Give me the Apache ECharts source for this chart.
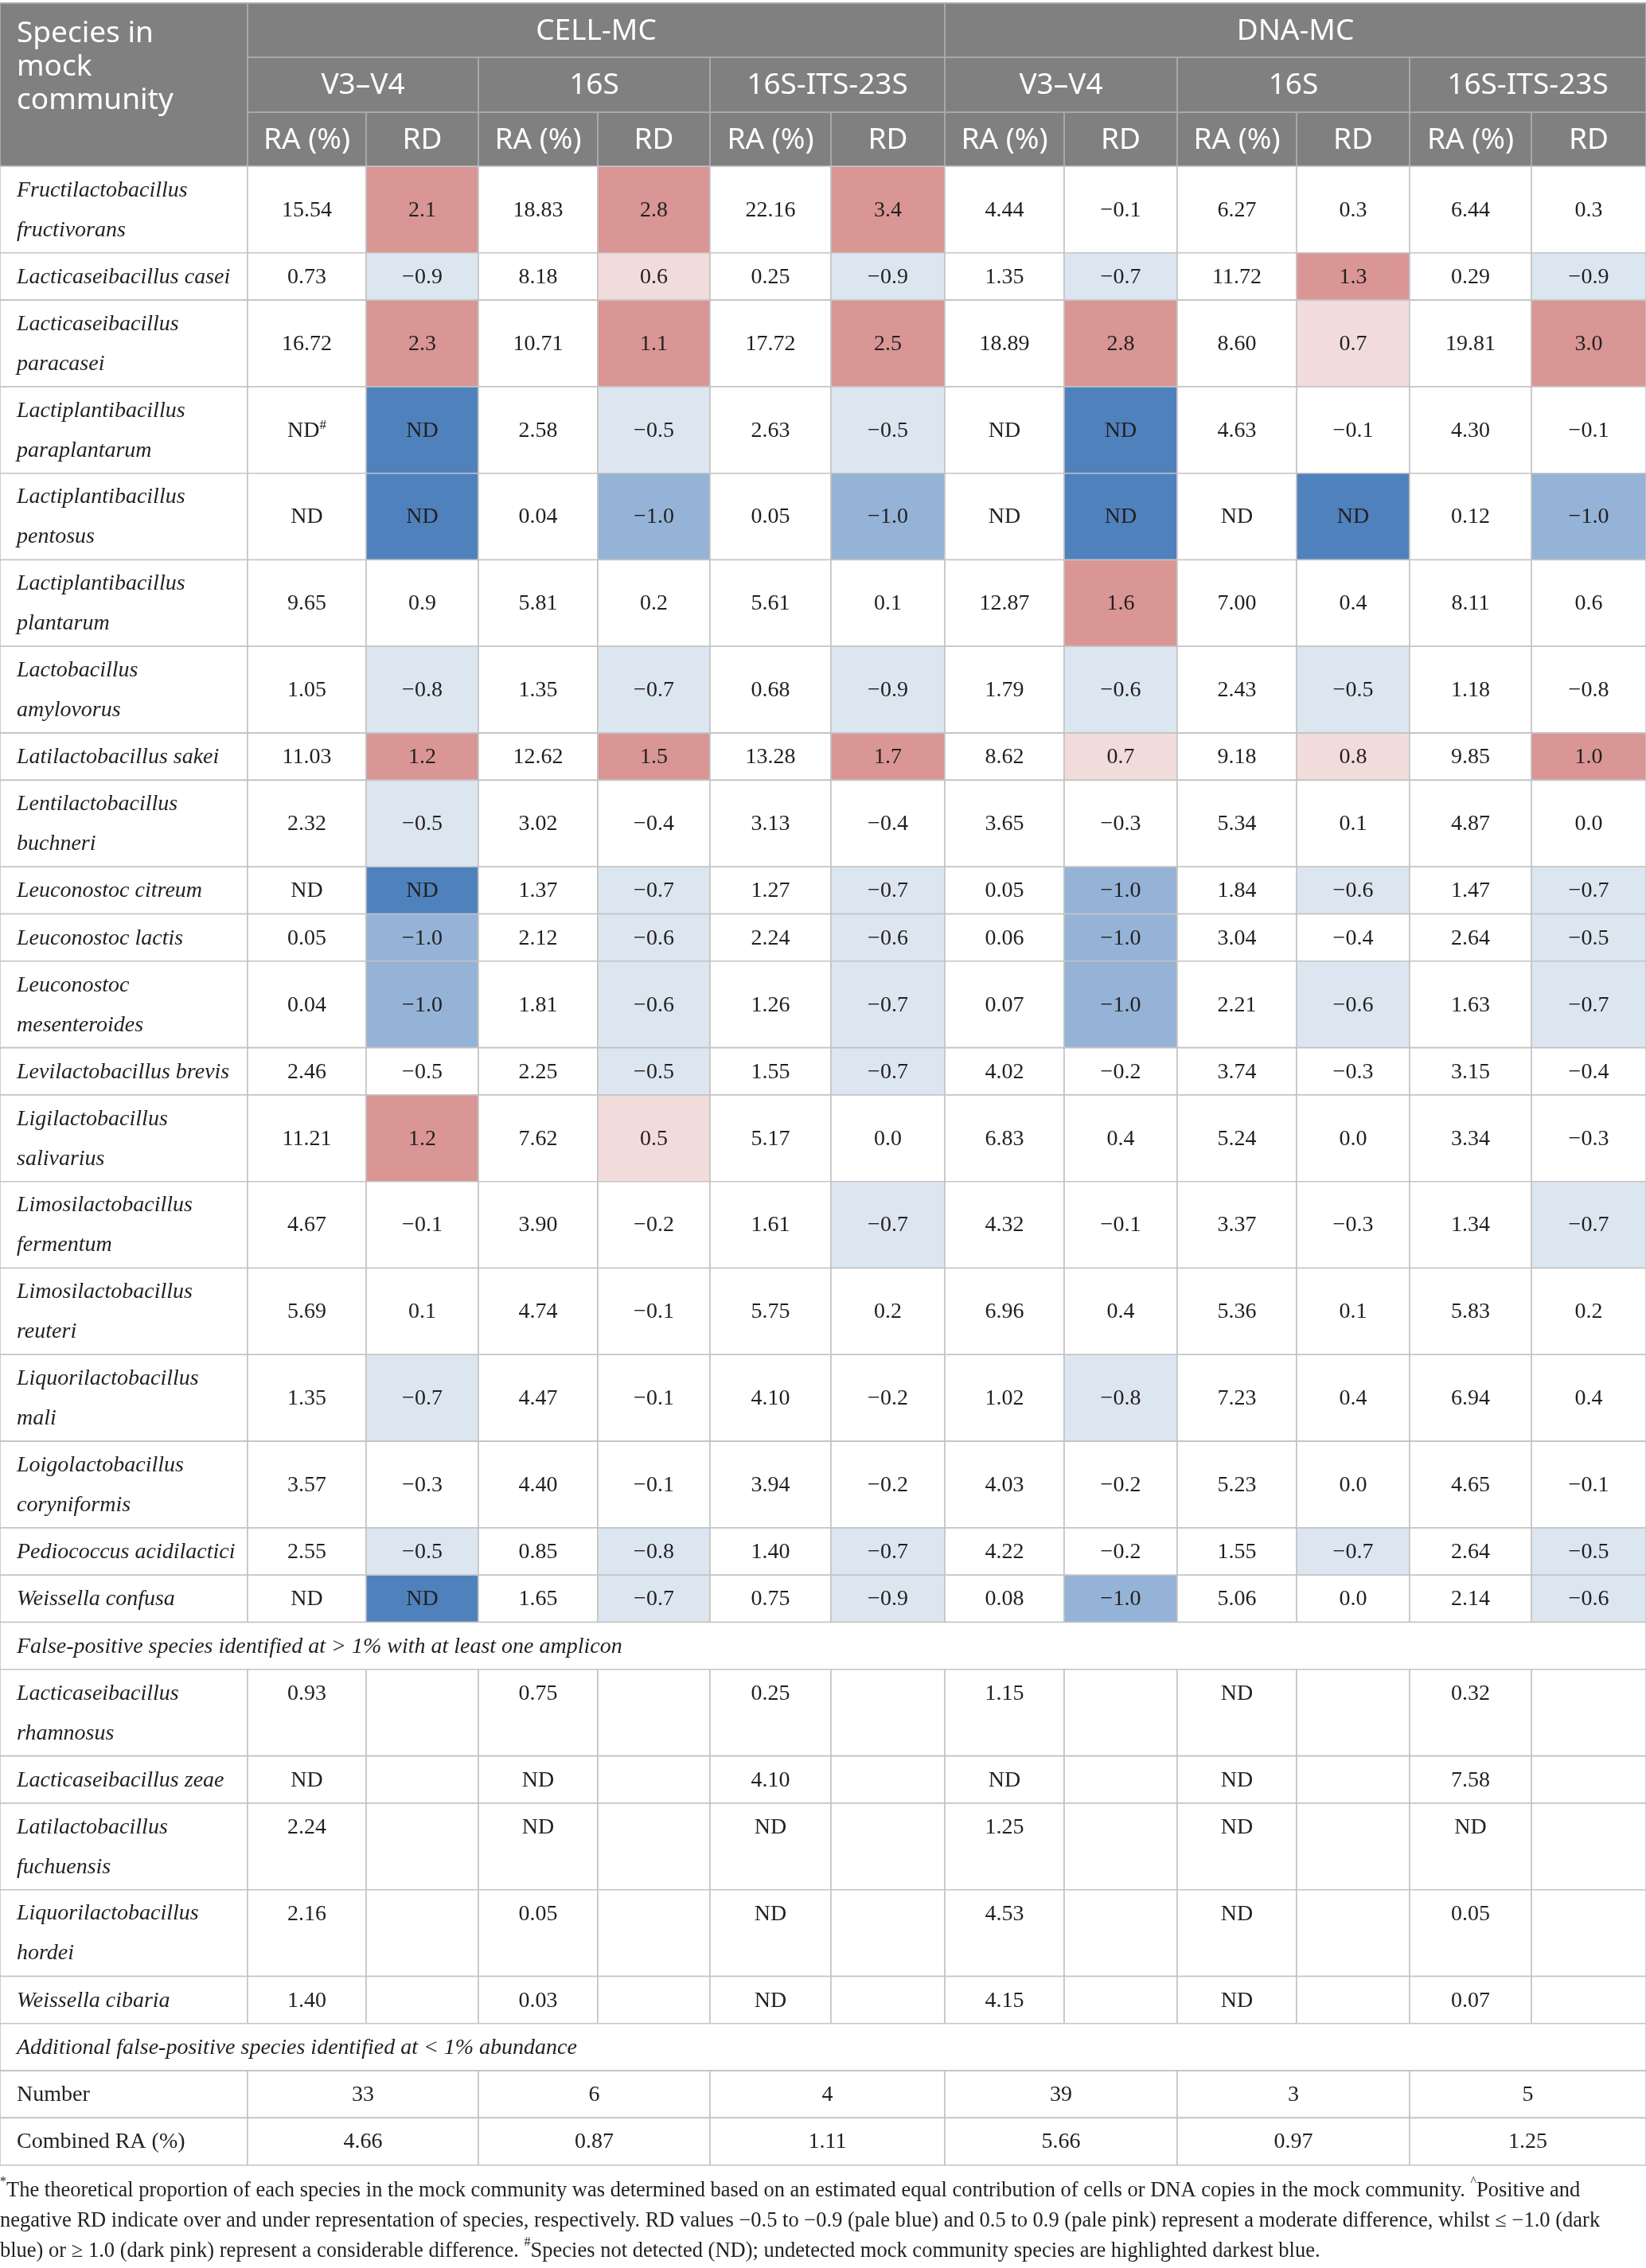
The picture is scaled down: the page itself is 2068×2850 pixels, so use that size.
<!DOCTYPE html>
<html>
<head>
<meta charset="utf-8">
<title>Mock community table</title>
<script src="https://cdn.jsdelivr.net/npm/echarts@6/dist/echarts.min.js"></script>
<style>
  html, body { margin: 0; padding: 0; background: #fff; }
  #chart { width: 2068px; height: 2850px; }
</style>
</head>
<body>
<div id="chart"></div>
<script>
// header labels
var groups = ['CELL-MC', 'DNA-MC'];
var amplicons = ['V3–V4', '16S', '16S-ITS-23S'];
var subHeads = ['RA (%)', 'RD'];

// species of the mock community (line breaks as in the printed table)
var species = [
  'Fructilactobacillus\nfructivorans',
  'Lacticaseibacillus casei',
  'Lacticaseibacillus\nparacasei',
  'Lactiplantibacillus\nparaplantarum',
  'Lactiplantibacillus\npentosus',
  'Lactiplantibacillus\nplantarum',
  'Lactobacillus\namylovorus',
  'Latilactobacillus sakei',
  'Lentilactobacillus\nbuchneri',
  'Leuconostoc citreum',
  'Leuconostoc lactis',
  'Leuconostoc\nmesenteroides',
  'Levilactobacillus brevis',
  'Ligilactobacillus\nsalivarius',
  'Limosilactobacillus\nfermentum',
  'Limosilactobacillus\nreuteri',
  'Liquorilactobacillus\nmali',
  'Loigolactobacillus\ncoryniformis',
  'Pediococcus acidilactici',
  'Weissella confusa'
];
// null = ND
var cellV34RA = [15.54, 0.73, 16.72, null, null, 9.65, 1.05, 11.03, 2.32, null, 0.05, 0.04, 2.46, 11.21, 4.67, 5.69, 1.35, 3.57, 2.55, null];
var cellV34RD = [2.1, -0.9, 2.3, null, null, 0.9, -0.8, 1.2, -0.5, null, -1.0, -1.0, -0.5, 1.2, -0.1, 0.1, -0.7, -0.3, -0.5, null];
var cell16SRA = [18.83, 8.18, 10.71, 2.58, 0.04, 5.81, 1.35, 12.62, 3.02, 1.37, 2.12, 1.81, 2.25, 7.62, 3.90, 4.74, 4.47, 4.40, 0.85, 1.65];
var cell16SRD = [2.8, 0.6, 1.1, -0.5, -1.0, 0.2, -0.7, 1.5, -0.4, -0.7, -0.6, -0.6, -0.5, 0.5, -0.2, -0.1, -0.1, -0.1, -0.8, -0.7];
var cellITSRA = [22.16, 0.25, 17.72, 2.63, 0.05, 5.61, 0.68, 13.28, 3.13, 1.27, 2.24, 1.26, 1.55, 5.17, 1.61, 5.75, 4.10, 3.94, 1.40, 0.75];
var cellITSRD = [3.4, -0.9, 2.5, -0.5, -1.0, 0.1, -0.9, 1.7, -0.4, -0.7, -0.6, -0.7, -0.7, 0.0, -0.7, 0.2, -0.2, -0.2, -0.7, -0.9];
var dnaV34RA = [4.44, 1.35, 18.89, null, null, 12.87, 1.79, 8.62, 3.65, 0.05, 0.06, 0.07, 4.02, 6.83, 4.32, 6.96, 1.02, 4.03, 4.22, 0.08];
var dnaV34RD = [-0.1, -0.7, 2.8, null, null, 1.6, -0.6, 0.7, -0.3, -1.0, -1.0, -1.0, -0.2, 0.4, -0.1, 0.4, -0.8, -0.2, -0.2, -1.0];
var dna16SRA = [6.27, 11.72, 8.60, 4.63, null, 7.00, 2.43, 9.18, 5.34, 1.84, 3.04, 2.21, 3.74, 5.24, 3.37, 5.36, 7.23, 5.23, 1.55, 5.06];
var dna16SRD = [0.3, 1.3, 0.7, -0.1, null, 0.4, -0.5, 0.8, 0.1, -0.6, -0.4, -0.6, -0.3, 0.0, -0.3, 0.1, 0.4, 0.0, -0.7, 0.0];
var dnaITSRA = [6.44, 0.29, 19.81, 4.30, 0.12, 8.11, 1.18, 9.85, 4.87, 1.47, 2.64, 1.63, 3.15, 3.34, 1.34, 5.83, 6.94, 4.65, 2.64, 2.14];
var dnaITSRD = [0.3, -0.9, 3.0, -0.1, -1.0, 0.6, -0.8, 1.0, 0.0, -0.7, -0.5, -0.7, -0.4, -0.3, -0.7, 0.2, 0.4, -0.1, -0.5, -0.6];
// RD cells left unshaded in the publication: [species index, amplicon column 0..5]
var unshaded = [[5, 0], [12, 0], [5, 5], [6, 5]];

// false positives
var fpTitle = 'False-positive species identified at > 1% with at least one amplicon';
var fpSpecies = ['Lacticaseibacillus\nrhamnosus', 'Lacticaseibacillus zeae', 'Latilactobacillus\nfuchuensis', 'Liquorilactobacillus\nhordei', 'Weissella cibaria'];
var fpCellV34 = [0.93, null, 2.24, 2.16, 1.40];
var fpCell16S = [0.75, null, null, 0.05, 0.03];
var fpCellITS = [0.25, 4.10, null, null, null];
var fpDnaV34 = [1.15, null, 1.25, 4.53, 4.15];
var fpDna16S = [null, null, null, null, null];
var fpDnaITS = [0.32, 7.58, null, 0.05, 0.07];

var addTitle = 'Additional false-positive species identified at < 1% abundance';
var addLabels = ['Number', 'Combined RA (%)'];
var addNumber = [33, 6, 4, 39, 3, 5];
var addCombinedRA = [4.66, 0.87, 1.11, 5.66, 0.97, 1.25];

var footLines = [
  '{sup|*}{t|The theoretical proportion of each species in the mock community was determined based on an estimated equal contribution of cells or DNA copies in the mock community. }{sup|^}{t|Positive and}',
  '{t|negative RD indicate over and under representation of species, respectively. RD values −0.5 to −0.9 (pale blue) and 0.5 to 0.9 (pale pink) represent a moderate difference, whilst ≤ −1.0 (dark}',
  '{t|blue) or ≥ 1.0 (dark pink) represent a considerable difference. }{sup|#}{t|Species not detected (ND); undetected mock community species are highlighted darkest blue.}'
];

// ---- layout ----
var colEdges = [0, 311, 460, 601, 751, 892, 1044, 1187, 1337, 1479, 1629, 1771, 1924, 2068];
var headRows = [68, 69, 68];
var ROW1 = 59.3, ROW2 = 108.8;

var SERIF = 'Liberation Serif';
var SANS = 'Noto Sans';
var INK = '#231f20';
var shade = {
  none: '#ffffff', palePink: '#f2dcdb', pink: '#d99694',
  paleBlue: '#dce6f1', blue: '#95b3d7', darkBlue: '#4f81bd'
};

var raCols = [cellV34RA, cell16SRA, cellITSRA, dnaV34RA, dna16SRA, dnaITSRA];
var rdCols = [cellV34RD, cell16SRD, cellITSRD, dnaV34RD, dna16SRD, dnaITSRD];
var fpCols = [fpCellV34, fpCell16S, fpCellITS, fpDnaV34, fpDna16S, fpDnaITS];

function fmt(v, d) {
  if (v === null) return 'ND';
  return v.toFixed(d).replace('-', '−');
}
function rdShade(v, r, k) {
  for (var i = 0; i < unshaded.length; i++) {
    if (unshaded[i][0] === r && unshaded[i][1] === k) return shade.none;
  }
  if (v === null) return shade.darkBlue;
  if (v <= -1.0) return shade.blue;
  if (v <= -0.5) return shade.paleBlue;
  if (v >= 1.0) return shade.pink;
  if (v >= 0.5) return shade.palePink;
  return shade.none;
}

// build cell list
var cells = [];
function addCell(c0, c1, y0, y1, text, kind, fill) {
  cells.push({ x0: colEdges[c0], x1: colEdges[c1], y0: y0, y1: y1, text: text, kind: kind, fill: fill || '#ffffff' });
}

var y = 0;
// header
var hy1 = headRows[0], hy2 = hy1 + headRows[1], hy3 = hy2 + headRows[2];
addCell(0, 1, 0, hy3, 'Species in\nmock\ncommunity', 'headLeft', '#808080');
groups.forEach(function (g, gi) {
  addCell(1 + gi * 6, 7 + gi * 6, 0, hy1, g, 'head', '#808080');
  amplicons.forEach(function (a, ai) {
    var c = 1 + gi * 6 + ai * 2;
    addCell(c, c + 2, hy1, hy2, a, 'head', '#808080');
    addCell(c, c + 1, hy2, hy3, subHeads[0], 'head', '#808080');
    addCell(c + 1, c + 2, hy2, hy3, subHeads[1], 'head', '#808080');
  });
});
y = hy3;

// mock community species
species.forEach(function (name, r) {
  var h = name.indexOf('\n') >= 0 ? ROW2 : ROW1;
  addCell(0, 1, y, y + h, name, 'name');
  for (var k = 0; k < 6; k++) {
    var isMarked = r === 3 && k === 0; // ND with # footnote mark
    addCell(1 + k * 2, 2 + k * 2, y, y + h, isMarked ? '{t|ND}{sup|#}' : fmt(raCols[k][r], 2), isMarked ? 'numRich' : 'num');
    addCell(2 + k * 2, 3 + k * 2, y, y + h, fmt(rdCols[k][r], 1), 'num', rdShade(rdCols[k][r], r, k));
  }
  y += h;
});

// false positives
addCell(0, 13, y, y + ROW1, fpTitle, 'name');
y += ROW1;
fpSpecies.forEach(function (name, r) {
  var h = name.indexOf('\n') >= 0 ? ROW2 : ROW1;
  addCell(0, 1, y, y + h, name, 'name');
  for (var k = 0; k < 6; k++) {
    addCell(1 + k * 2, 2 + k * 2, y, y + h, fmt(fpCols[k][r], 2), 'numTop');
    addCell(2 + k * 2, 3 + k * 2, y, y + h, '', 'num');
  }
  y += h;
});

// additional false positives
addCell(0, 13, y, y + ROW1, addTitle, 'name');
y += ROW1;
[addNumber, addCombinedRA].forEach(function (arr, i) {
  addCell(0, 1, y, y + ROW1, addLabels[i], 'label');
  arr.forEach(function (v, k) {
    addCell(1 + k * 2, 3 + k * 2, y, y + ROW1, i === 0 ? String(v) : v.toFixed(2), 'num');
  });
  y += ROW1;
});
var tableH = y;

function textFor(c, x, yy, w, h) {
  if (c.kind === 'head') {
    return { text: c.text, x: x + w / 2, y: yy + h / 2 + 1, align: 'center', verticalAlign: 'middle',
      fill: '#ffffff', fontFamily: SANS, fontSize: 37 };
  }
  if (c.kind === 'headLeft') {
    return { text: c.text, x: x + 21, y: yy + 17, align: 'left', verticalAlign: 'top',
      fill: '#ffffff', fontFamily: SANS, fontSize: 37, lineHeight: 42 };
  }
  var st = { text: c.text, fill: INK, fontFamily: SERIF, fontSize: 28, lineHeight: 30 };
  if (c.kind === 'name') {
    st.fontStyle = 'italic'; st.lineHeight = 50;
    st.x = x + 21; st.y = yy + h / 2 + 1; st.align = 'left'; st.verticalAlign = 'middle';
    return st;
  }
  if (c.kind === 'label') {
    st.x = x + 21; st.y = yy + h / 2 + 1; st.align = 'left'; st.verticalAlign = 'middle';
    return st;
  }
  if (c.kind === 'numRich') {
    st.rich = {
      t: { fontFamily: SERIF, fontSize: 28, lineHeight: 30, fill: INK },
      sup: { fontFamily: SERIF, fontSize: 17, lineHeight: 18, verticalAlign: 'top', fill: INK }
    };
  }
  st.x = x + w / 2; st.align = 'center'; st.verticalAlign = 'middle';
  st.y = c.kind === 'numTop' ? yy + 31 : yy + h / 2 + 1;
  return st;
}

var chart = echarts.init(document.getElementById('chart'), null, { renderer: 'canvas' });
chart.setOption({
  animation: false,
  backgroundColor: '#ffffff',
  grid: { left: 0, top: 4, width: 2068, height: tableH },
  xAxis: { type: 'value', min: 0, max: 2068, show: false },
  yAxis: { type: 'value', min: 0, max: tableH, inverse: true, show: false },
  series: [{
    type: 'custom',
    clip: false,
    encode: { x: [0, 1], y: [2, 3] },
    data: cells.map(function (c, i) { return [c.x0, c.x1, c.y0, c.y1, i]; }),
    renderItem: function (params, api) {
      var c = cells[api.value(4)];
      var p0 = api.coord([api.value(0), api.value(2)]);
      var p1 = api.coord([api.value(1), api.value(3)]);
      var w = p1[0] - p0[0], h = p1[1] - p0[1];
      var isHead = c.kind === 'head' || c.kind === 'headLeft';
      var kids = [{
        type: 'rect',
        shape: { x: p0[0], y: p0[1], width: w, height: h },
        style: { fill: c.fill, stroke: isHead ? '#a8a8a8' : '#c4c4c4', lineWidth: isHead ? 2 : 1.6 }
      }];
      if (c.text) kids.push({ type: 'text', style: textFor(c, p0[0], p0[1], w, h) });
      return { type: 'group', children: kids };
    }
  }],
  graphic: [{
    type: 'text',
    left: 0,
    top: 2734,
    style: {
      text: footLines.join('\n'),
      fill: INK, fontFamily: SERIF, fontSize: 26.5, lineHeight: 38,
      rich: {
        t: { fill: INK, fontFamily: SERIF, fontSize: 26.5, lineHeight: 38 },
        sup: { fill: INK, fontFamily: SERIF, fontSize: 16, lineHeight: 22, verticalAlign: 'top' }
      }
    }
  }]
});
</script>
</body>
</html>
